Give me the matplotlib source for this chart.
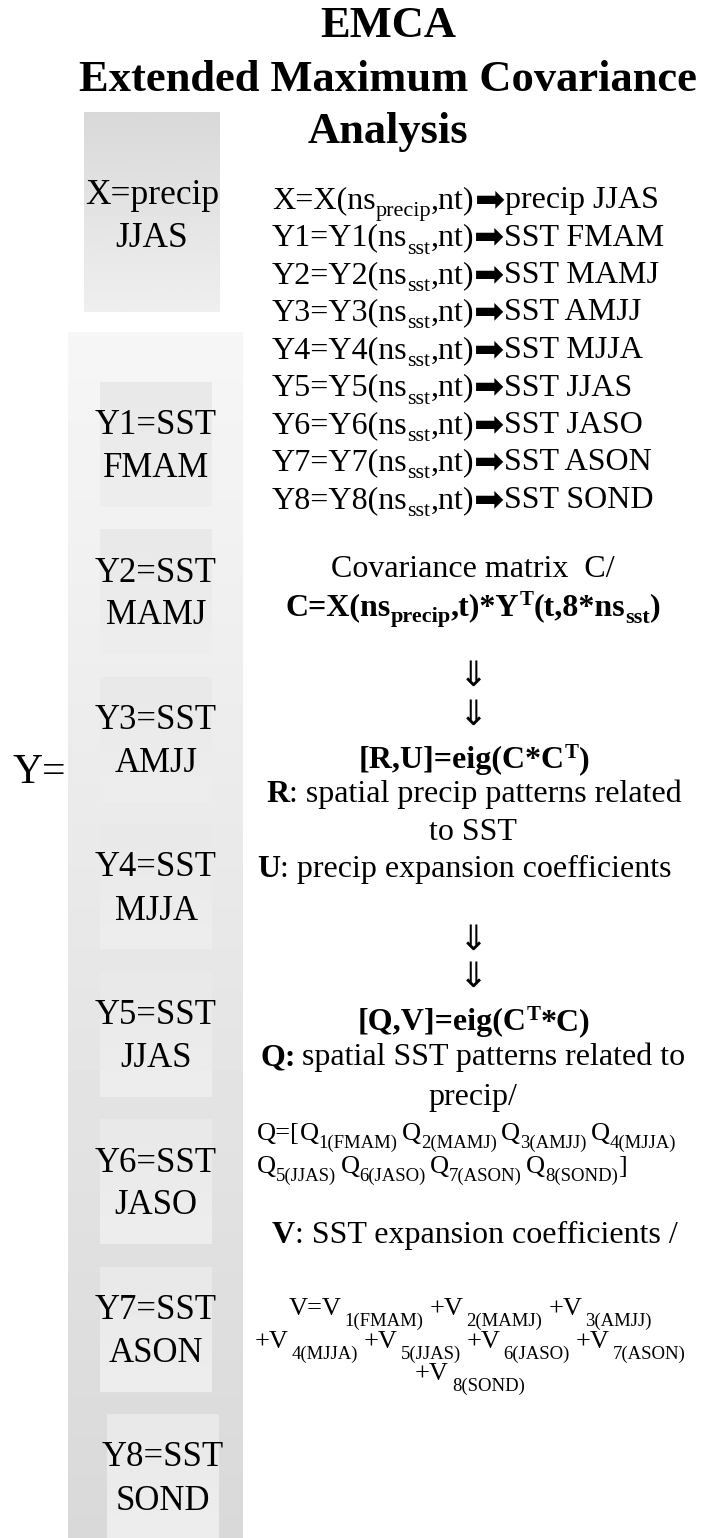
import numpy as np
import matplotlib
matplotlib.use("Agg")
import matplotlib.pyplot as plt

# font Times-like per tutto il diagramma
plt.rcParams['font.family'] = ['Liberation Serif', 'DejaVu Sans']

# --- dati / testi ---
title_lines = ["EMCA", "Extended Maximum Covariance", "Analysis"]
x_season = "JJAS"
seasons = ["FMAM", "MAMJ", "AMJJ", "MJJA", "JJAS", "JASO", "ASON", "SOND"]
r_texts = ["spatial precip patterns related", "to SST", "precip expansion coefficients"]
q_texts = ["spatial SST patterns related to", "precip/"]
v_text = "SST expansion coefficients /"

W, H = 703, 1538
fig = plt.figure(figsize=(W / 100, H / 100), dpi=100)
ax = fig.add_axes([0, 0, 1, 1])
ax.axis('off')


def grad_box(x0, x1, y0, y1, c_top, c_bot, z=0):
    g = np.linspace(c_top, c_bot, 128).reshape(-1, 1)
    ax.imshow(g, cmap='gray', vmin=0, vmax=1, extent=(x0, x1, y1, y0),
              aspect='auto', interpolation='bilinear', zorder=z)


# --- riquadri sfumati ---
grad_box(84, 220, 112, 312, 0.85, 0.935)          # X
grad_box(68, 243, 332, H, 0.965, 0.85)            # colonna Y
box_top = [382 + 147.5 * i for i in range(8)]
for i, s in enumerate(seasons):
    x0, x1 = (100, 212) if i < 7 else (107, 219)
    y0 = box_top[i]
    grad_box(x0, x1, y0, y0 + 125, 0.91, 0.93, z=1)
    cx = (x0 + x1) / 2
    ax.text(cx, y0 + 52, f"Y{i + 1}=SST", ha='center', va='baseline', fontsize=25, zorder=3)
    ax.text(cx, y0 + 95, s, ha='center', va='baseline', fontsize=25, zorder=3)

ax.set_xlim(0, W)
ax.set_ylim(H, 0)

# --- titolo ---
for y, s in zip([37, 91, 143], title_lines):
    ax.text(388, y, s, ha='center', va='baseline', fontsize=32, fontweight='bold')

ax.text(152, 204, "X=precip", ha='center', va='baseline', fontsize=25.5, zorder=3)
ax.text(152, 247, x_season, ha='center', va='baseline', fontsize=25.5, zorder=3)
ax.text(66, 783, "Y=", ha='right', va='baseline', fontsize=30)

# --- testo composto a pezzi: misuro ogni pezzo e vado avanti ---
renderer = fig.canvas.get_renderer()


def put_run(x, y, pieces, ha='left'):
    # pieces: (testo, size, dy, peso, spazio dopo, famiglia)
    texts = []
    cur = x
    for p in pieces:
        s, size, dy, wt, gap = p[:5]
        fam = p[5] if len(p) > 5 else None
        kw = dict(family=fam) if fam else {}
        t = ax.text(cur, y + dy, s, fontsize=size, fontweight=wt,
                    ha='left', va='baseline', **kw)
        bb = t.get_window_extent(renderer)
        cur = ax.transData.inverted().transform((bb.x1, bb.y0))[0] + gap
        texts.append(t)
    if ha == 'center':
        shift = (cur - x) / 2
        for t in texts:
            px, py = t.get_position()
            t.set_position((px - shift, py))


N, B = 'normal', 'bold'
ARROW = ("\u27a1", 26, 2, N, 0, 'DejaVu Sans')
left_main = ["X=X(ns"] + [f"Y{i + 1}=Y{i + 1}(ns" for i in range(8)]
left_sub = ["precip"] + ["sst"] * 8
right = [f"precip {x_season}"] + [f"SST {s}" for s in seasons]
for k in range(9):
    put_run(272, 208 + 37.5 * k,
            [(left_main[k], 23, 0, N, 0), (left_sub[k], 16, 8, N, 0),
             (",nt)", 23, 0, N, 0), ARROW, (right[k], 23, 0, N, 0)])

# --- covarianza ---
ax.text(473, 577, "Covariance matrix  C/", ha='center', va='baseline', fontsize=23)
put_run(473, 615, [("C=X(ns", 23, 0, B, 0), ("precip", 16, 7, B, 0), (",t)*Y", 23, 0, B, 0),
                   ("T", 15, -10, B, 0), ("(t,8*ns", 23, 0, B, 0), ("sst", 16, 8, B, 0),
                   (")", 23, 0, B, 0)], ha='center')

for y in [676, 715, 940, 977]:
    ax.text(473, y, "\u21d3", ha='center', va='center', fontsize=25, family='DejaVu Sans')

put_run(474, 768, [("[R,U]=eig(C*C", 23, 0, B, 0), ("T", 15, -10, B, 0), (")", 23, 0, B, 0)],
        ha='center')
put_run(266, 802, [("R", 23, 0, B, 0), (": " + r_texts[0], 23, 0, N, 0)])
ax.text(473, 840, r_texts[1], ha='center', va='baseline', fontsize=23)
put_run(257, 877, [("U", 23, 0, B, 0), (": " + r_texts[2], 23, 0, N, 0)])

put_run(474, 1030, [("[Q,V]=eig(C", 23, 0, B, 0), ("T", 15, -10, B, 0), ("*C)", 23, 0, B, 0)],
        ha='center')
put_run(261, 1065, [("Q:", 23, 0, B, 5), (q_texts[0], 23, 0, N, 0)])
ax.text(473, 1105, q_texts[1], ha='center', va='baseline', fontsize=23)

q1 = [("Q=[", 19, 0, N, 0)]
for i, s in enumerate(seasons[:4]):
    q1 += [("Q", 19, 0, N, 0), (f"{i + 1}({s})", 13.5, 8, N, 4)]
put_run(257, 1140, q1)
q2 = []
for i, s in enumerate(seasons[4:]):
    q2 += [("Q", 19, 0, N, 0), (f"{i + 5}({s})", 13.5, 8, N, 4)]
q2[-1] = (q2[-1][0], 13.5, 8, N, 0)
q2 += [("]", 19, 0, N, 0)]
put_run(257, 1173, q2)

put_run(272, 1243, [("V", 23, 0, B, 0), (": " + v_text, 23, 0, N, 0)])

v_rows = [seasons[:3], seasons[3:7], seasons[7:]]
v_y = [1315, 1348, 1380]
n = 0
for row, y in zip(v_rows, v_y):
    pcs = []
    for s in row:
        n += 1
        head = "V=V" if n == 1 else "+V"
        pcs += [(head, 19, 0, N, 3), (f"{n}({s})", 13.5, 11, N, 6)]
    put_run(473, y, pcs, ha='center')

fig.savefig("out.png", dpi=100, facecolor='white')
